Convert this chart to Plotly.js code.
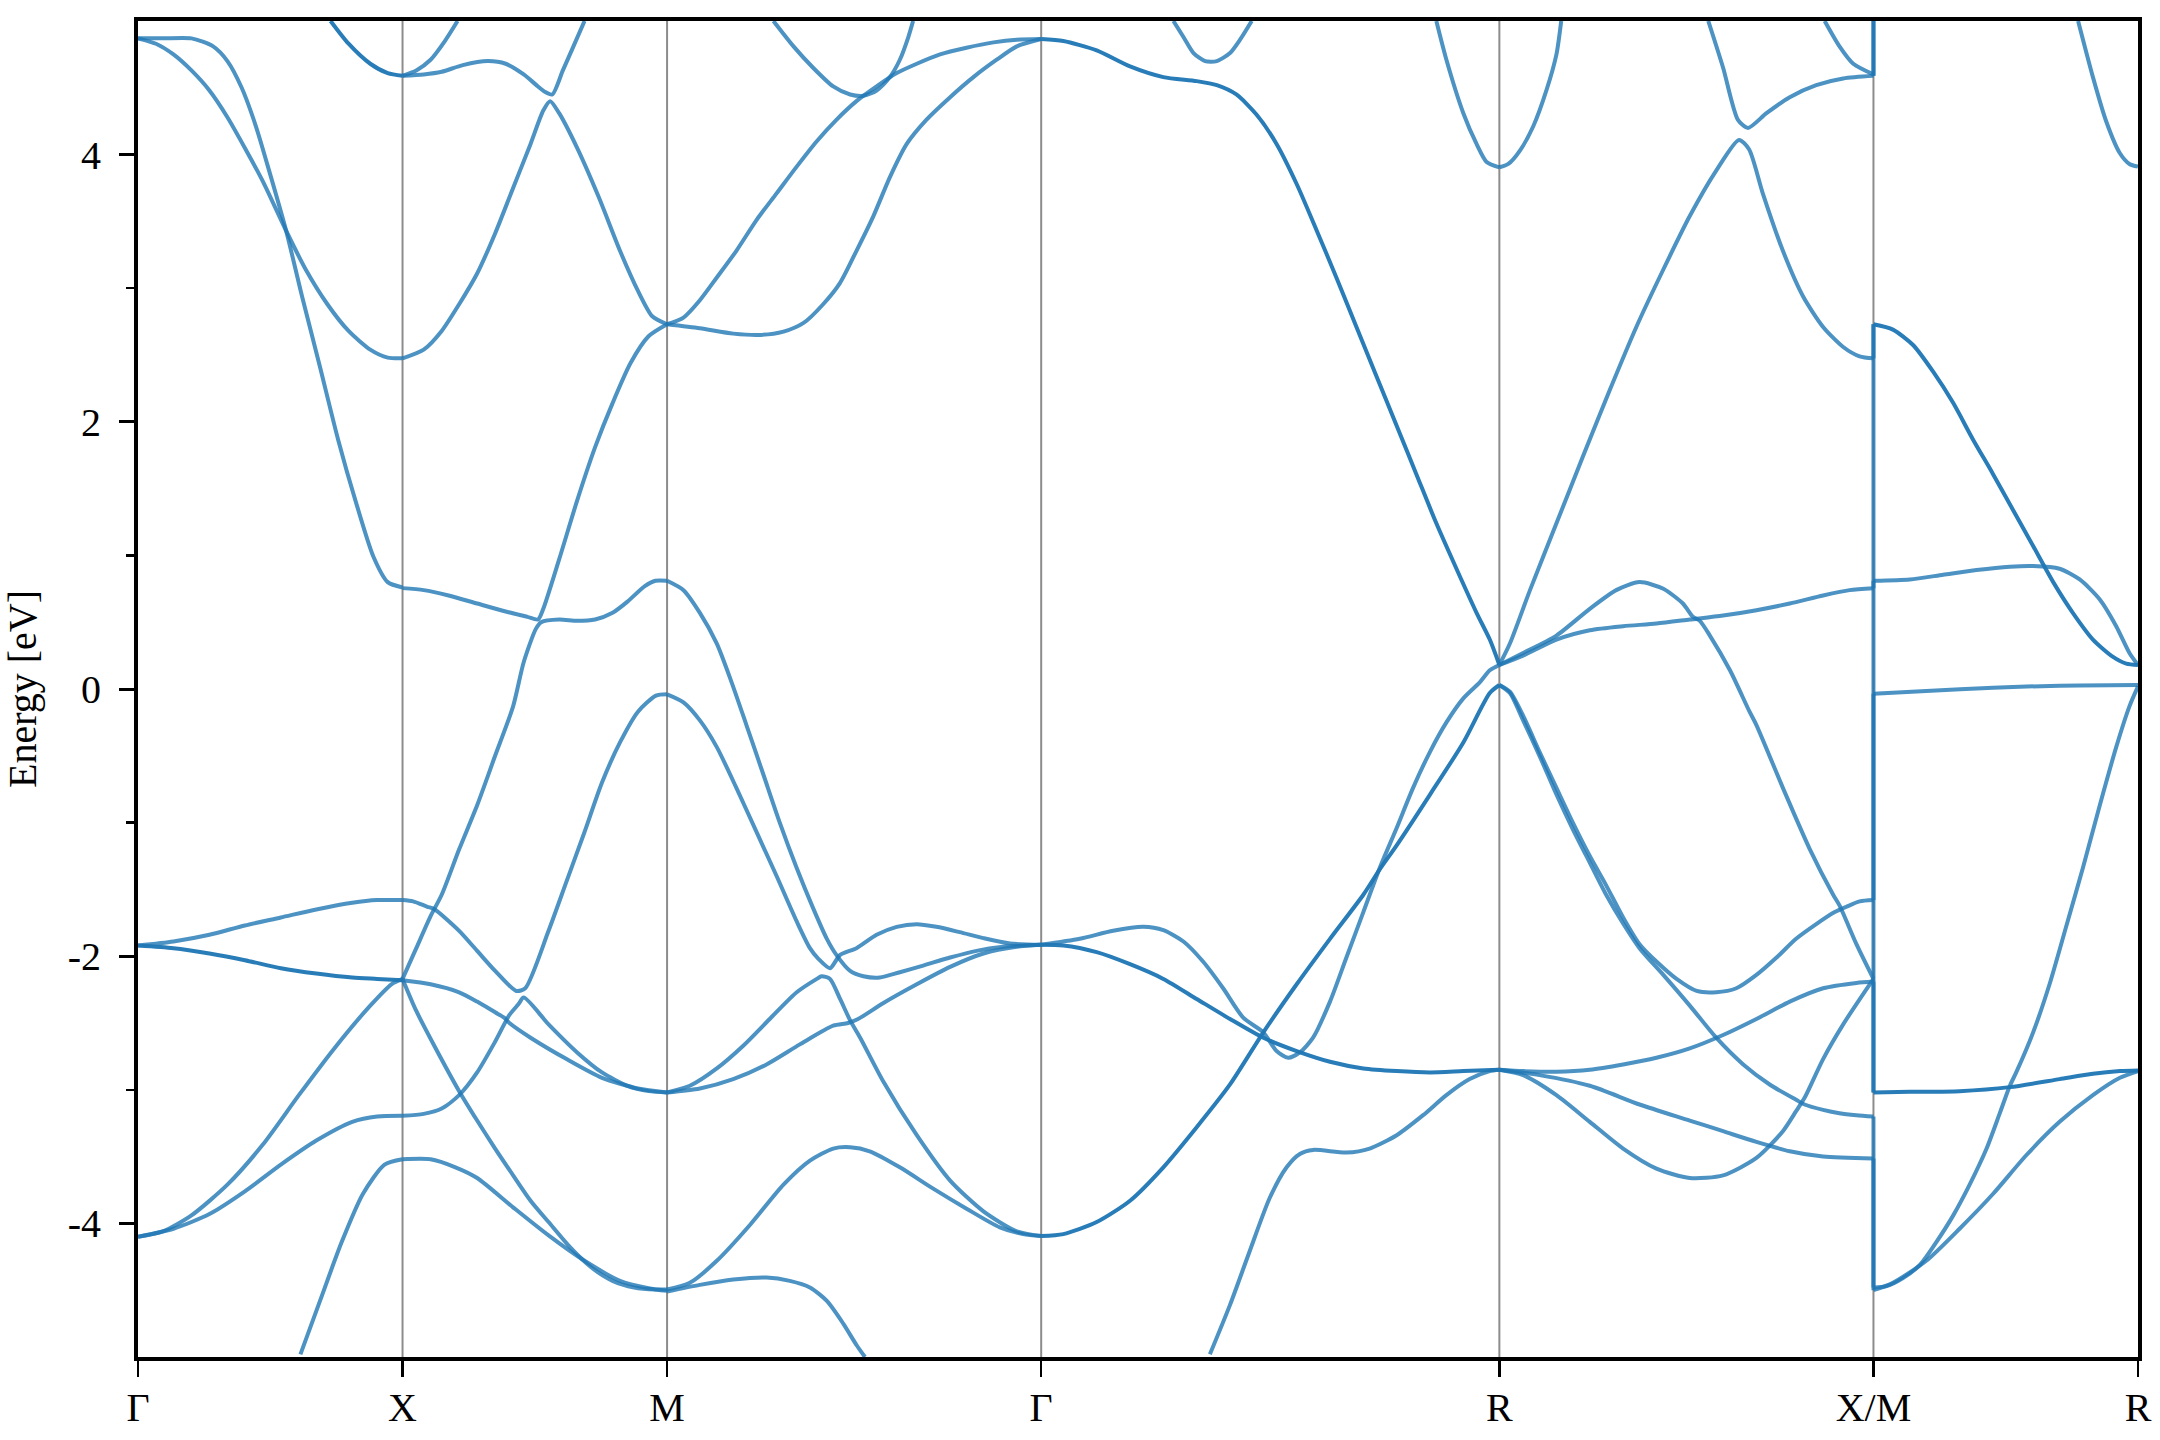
<!DOCTYPE html>
<html><head><meta charset="utf-8">
<script src="https://cdn.plot.ly/plotly-3.0.1.min.js"></script>
<style>html,body{margin:0;padding:0;background:#fff}</style>
</head><body>
<div id="chart" style="width:2160px;height:1440px"></div>
<script>
// high-symmetry path
const kNodes  = [0, 0.5, 1.0, 1.7071, 2.5731, 3.2802, 3.7802];
const kLabels = ['Γ', 'X', 'M', 'Γ', 'R', 'X/M', 'R'];
const eTicks  = [-4, -2, 0, 2, 4];
const eTickText = ['-4', '-2', '0', '2', '4'];
const eMinor  = [-3, -1, 1, 3];

// ---- Γ - X ----
const gx1_k = [0, 0.047, 0.101, 0.142, 0.169, 0.196, 0.223, 0.25, 0.28, 0.31, 0.344, 0.378, 0.411, 0.445, 0.472, 0.5];
const gx1_E = [4.87, 4.87, 4.87, 4.81, 4.70, 4.50, 4.21, 3.85, 3.43, 2.94, 2.41, 1.87, 1.41, 0.99, 0.80, 0.76];
const gx2_k = [0, 0.034, 0.067, 0.101, 0.135, 0.169, 0.202, 0.236, 0.28, 0.317, 0.358, 0.398, 0.439, 0.472, 0.5];
const gx2_E = [4.87, 4.83, 4.75, 4.63, 4.48, 4.28, 4.05, 3.80, 3.43, 3.14, 2.88, 2.68, 2.54, 2.48, 2.475];
const gx3_k = [0.364, 0.398, 0.439, 0.472, 0.5];
const gx3_E = [5.0, 4.83, 4.68, 4.61, 4.59];
const gx4_k = [0, 0.067, 0.135, 0.202, 0.27, 0.337, 0.405, 0.452, 0.5];
const gx4_E = [-1.92, -1.89, -1.84, -1.77, -1.71, -1.65, -1.60, -1.58, -1.58];
const gx5_k = [0, 0.067, 0.135, 0.202, 0.27, 0.337, 0.405, 0.452, 0.5];
const gx5_E = [-1.92, -1.94, -1.98, -2.03, -2.09, -2.13, -2.16, -2.17, -2.18];
const gx6_k = [0, 0.047, 0.101, 0.169, 0.236, 0.304, 0.371, 0.439, 0.479, 0.5];
const gx6_E = [-4.10, -4.06, -3.94, -3.71, -3.41, -3.04, -2.69, -2.37, -2.21, -2.17];
const gx7_k = [0, 0.067, 0.135, 0.202, 0.27, 0.337, 0.405, 0.452, 0.5];
const gx7_E = [-4.10, -4.04, -3.93, -3.76, -3.56, -3.38, -3.24, -3.20, -3.195];
const gx8_k = [0.307, 0.344, 0.385, 0.425, 0.466, 0.5];
const gx8_E = [-4.98, -4.58, -4.14, -3.78, -3.56, -3.52];

// ---- X - M ----
const xm1_k = [0.5, 0.526, 0.553, 0.58, 0.604];
const xm1_E = [4.59, 4.63, 4.71, 4.85, 5.0];
const xm2_k = [0.5, 0.54, 0.574, 0.614, 0.661, 0.695, 0.729, 0.756, 0.769, 0.783, 0.803, 0.823, 0.844];
const xm2_E = [4.59, 4.60, 4.62, 4.67, 4.70, 4.68, 4.60, 4.51, 4.47, 4.45, 4.63, 4.81, 5.0];
const xm3_k = [0.5, 0.54, 0.574, 0.607, 0.641, 0.675, 0.709, 0.742, 0.766, 0.779, 0.796, 0.83, 0.871, 0.911, 0.945, 0.972, 1.0];
const xm3_E = [2.475, 2.54, 2.68, 2.88, 3.11, 3.41, 3.75, 4.08, 4.33, 4.40, 4.31, 4.05, 3.68, 3.28, 2.98, 2.79, 2.73];
const xm4_k = [0.5, 0.54, 0.587, 0.641, 0.695, 0.736, 0.756, 0.766, 0.796, 0.83, 0.864, 0.897, 0.931, 0.965, 1.0];
const xm4_E = [0.755, 0.74, 0.70, 0.64, 0.58, 0.54, 0.52, 0.60, 0.97, 1.41, 1.81, 2.14, 2.44, 2.64, 2.73];
const xm5_k = [0.5, 0.526, 0.553, 0.574, 0.607, 0.641, 0.675, 0.709, 0.729, 0.752, 0.762, 0.796, 0.83, 0.864, 0.897, 0.924, 0.958, 0.978, 1.0];
const xm5_E = [-2.17, -1.94, -1.70, -1.54, -1.20, -0.87, -0.50, -0.13, 0.20, 0.45, 0.50, 0.52, 0.51, 0.52, 0.57, 0.65, 0.77, 0.81, 0.81];
const xm6_k = [0.5, 0.52, 0.547, 0.559, 0.607, 0.641, 0.675, 0.715, 0.732, 0.776, 0.81, 0.844, 0.877, 0.911, 0.945, 0.979, 1.0];
const xm6_E = [-1.58, -1.59, -1.63, -1.645, -1.81, -1.96, -2.11, -2.26, -2.24, -1.81, -1.44, -1.07, -0.70, -0.40, -0.17, -0.05, -0.04];
const xm7_k = [0.5, 0.54, 0.574, 0.607, 0.641, 0.675, 0.702, 0.719, 0.729, 0.776, 0.83, 0.877, 0.925, 0.965, 1.0];
const xm7_E = [-3.195, -3.18, -3.14, -3.04, -2.87, -2.64, -2.44, -2.36, -2.31, -2.51, -2.72, -2.87, -2.97, -3.01, -3.02];
const xm8_k = [0.5, 0.553, 0.607, 0.641, 0.675, 0.692, 0.702, 0.742, 0.81, 0.877, 0.945, 1.0];
const xm8_E = [-2.18, -2.21, -2.27, -2.34, -2.42, -2.46, -2.50, -2.61, -2.77, -2.91, -2.99, -3.02];
const xm9_k = [0.5, 0.526, 0.56, 0.607, 0.641, 0.675, 0.709, 0.742, 0.776, 0.817, 0.857, 0.897, 0.938, 0.979, 1.0];
const xm9_E = [-2.17, -2.41, -2.67, -3.01, -3.23, -3.44, -3.64, -3.83, -3.99, -4.18, -4.33, -4.43, -4.48, -4.495, -4.495];
const xm10_k = [0.5, 0.553, 0.6, 0.641, 0.709, 0.776, 0.844, 0.911, 0.965, 1.0];
const xm10_E = [-3.52, -3.52, -3.58, -3.66, -3.88, -4.09, -4.28, -4.43, -4.485, -4.505];

// ---- M - Γ ----
const mg1_k = [1.0, 1.031, 1.062, 1.094, 1.131, 1.169, 1.207, 1.245, 1.283, 1.32, 1.358, 1.396, 1.434, 1.472, 1.516, 1.566, 1.617, 1.661, 1.7071];
const mg1_E = [2.73, 2.78, 2.91, 3.08, 3.28, 3.51, 3.71, 3.91, 4.10, 4.26, 4.40, 4.51, 4.61, 4.68, 4.75, 4.80, 4.84, 4.86, 4.865];
const mg2_k = [1.0, 1.062, 1.125, 1.176, 1.22, 1.258, 1.295, 1.327, 1.358, 1.39, 1.421, 1.453, 1.49, 1.535, 1.579, 1.623, 1.661, 1.7071];
const mg2_E = [2.73, 2.70, 2.66, 2.65, 2.675, 2.74, 2.88, 3.04, 3.28, 3.54, 3.83, 4.08, 4.26, 4.43, 4.58, 4.71, 4.81, 4.865];
const mg3_k = [1.201, 1.239, 1.276, 1.314, 1.346, 1.371, 1.396, 1.421, 1.44, 1.456, 1.465];
const mg3_E = [5.0, 4.81, 4.65, 4.51, 4.45, 4.44, 4.48, 4.58, 4.71, 4.88, 5.0];
const mg4_k = [1.0, 1.031, 1.062, 1.094, 1.122, 1.15, 1.182, 1.213, 1.245, 1.276, 1.302, 1.32, 1.346, 1.371, 1.402, 1.44, 1.484, 1.535, 1.585, 1.635, 1.673, 1.7071];
const mg4_E = [0.81, 0.74, 0.57, 0.34, 0.05, -0.27, -0.64, -1.00, -1.34, -1.64, -1.87, -1.99, -2.11, -2.15, -2.16, -2.12, -2.07, -2.01, -1.96, -1.93, -1.92, -1.915];
const mg5_k = [1.0, 1.031, 1.062, 1.094, 1.131, 1.169, 1.207, 1.245, 1.27, 1.286, 1.308, 1.327, 1.358, 1.396, 1.434, 1.472, 1.509, 1.553, 1.598, 1.648, 1.7071];
const mg5_E = [-0.04, -0.10, -0.235, -0.435, -0.74, -1.07, -1.40, -1.74, -1.94, -2.02, -2.09, -1.99, -1.94, -1.84, -1.78, -1.76, -1.78, -1.82, -1.865, -1.905, -1.915];
const mg6_k = [1.0, 1.043, 1.094, 1.144, 1.194, 1.245, 1.283, 1.292, 1.308, 1.327, 1.346, 1.365, 1.409, 1.472, 1.535, 1.598, 1.661, 1.7071];
const mg6_E = [-3.02, -2.97, -2.84, -2.67, -2.47, -2.27, -2.17, -2.15, -2.17, -2.32, -2.48, -2.61, -2.94, -3.34, -3.68, -3.91, -4.06, -4.095];
const mg7_k = [1.0, 1.062, 1.125, 1.188, 1.251, 1.314, 1.342, 1.361, 1.409, 1.472, 1.535, 1.598, 1.661, 1.7071];
const mg7_E = [-3.02, -2.99, -2.92, -2.81, -2.66, -2.52, -2.50, -2.47, -2.35, -2.21, -2.08, -1.98, -1.93, -1.915];
const mg8_k = [1.0, 1.043, 1.094, 1.157, 1.22, 1.27, 1.314, 1.346, 1.383, 1.44, 1.503, 1.566, 1.629, 1.673, 1.7071];
const mg8_E = [-4.495, -4.445, -4.28, -4.01, -3.71, -3.53, -3.44, -3.43, -3.46, -3.58, -3.74, -3.89, -4.03, -4.08, -4.095];
const mg9_k = [1.0, 1.062, 1.125, 1.188, 1.232, 1.27, 1.302, 1.333, 1.358, 1.374];
const mg9_E = [-4.51, -4.46, -4.42, -4.405, -4.43, -4.48, -4.58, -4.75, -4.91, -5.0];

// ---- Γ - R ----
const gr1_k = [1.7071, 1.749, 1.812, 1.875, 1.938, 2.001, 2.039, 2.076, 2.114, 2.152, 2.19, 2.227, 2.265, 2.303, 2.341, 2.379, 2.416, 2.454, 2.492, 2.53, 2.555, 2.5731];
const gr1_E = [4.865, 4.85, 4.78, 4.66, 4.58, 4.55, 4.52, 4.45, 4.30, 4.08, 3.78, 3.44, 3.08, 2.71, 2.34, 1.97, 1.61, 1.24, 0.90, 0.57, 0.37, 0.18];
const gr2_k = [1.957, 1.976, 1.995, 2.017, 2.039, 2.064, 2.083, 2.105];
const gr2_E = [5.0, 4.88, 4.76, 4.70, 4.70, 4.76, 4.86, 5.0];
const gr3_k = [2.454, 2.473, 2.505, 2.53, 2.549, 2.5731];
const gr3_E = [5.0, 4.71, 4.31, 4.08, 3.945, 3.905];
const gr4_k = [1.7071, 1.749, 1.812, 1.875, 1.938, 2.001, 2.064, 2.127, 2.19, 2.253, 2.316, 2.379, 2.442, 2.505, 2.5731];
const gr4_E = [-1.915, -1.92, -1.97, -2.06, -2.17, -2.32, -2.47, -2.61, -2.71, -2.79, -2.84, -2.86, -2.87, -2.86, -2.85];
const gr5_k = [1.7071, 1.78, 1.843, 1.9, 1.938, 1.976, 2.013, 2.051, 2.089, 2.127, 2.152, 2.174, 2.196, 2.221, 2.253, 2.284, 2.316, 2.347, 2.379, 2.41, 2.442, 2.473, 2.505, 2.536, 2.555, 2.5731];
const gr5_E = [-1.915, -1.87, -1.81, -1.78, -1.805, -1.89, -2.04, -2.24, -2.46, -2.57, -2.71, -2.76, -2.72, -2.61, -2.34, -2.01, -1.67, -1.34, -1.04, -0.74, -0.47, -0.25, -0.07, 0.05, 0.14, 0.18];
const gr6_k = [1.7071, 1.749, 1.812, 1.875, 1.938, 2.001, 2.064, 2.127, 2.19, 2.253, 2.316, 2.347, 2.379, 2.442, 2.505, 2.555, 2.5731];
const gr6_E = [-4.095, -4.08, -3.99, -3.83, -3.58, -3.28, -2.96, -2.57, -2.21, -1.87, -1.54, -1.35, -1.17, -0.79, -0.40, -0.03, 0.03];
const gr7_k = [2.026, 2.064, 2.101, 2.139, 2.171, 2.196, 2.221, 2.284, 2.328, 2.379, 2.429, 2.473, 2.517, 2.555, 2.5731];
const gr7_E = [-4.98, -4.61, -4.21, -3.81, -3.58, -3.48, -3.45, -3.47, -3.44, -3.34, -3.19, -3.04, -2.92, -2.86, -2.85];

// ---- R - X ----
const rx1_k = [2.5731, 2.59, 2.612, 2.637, 2.662, 2.681, 2.69];
const rx1_E = [3.905, 3.93, 4.03, 4.21, 4.48, 4.75, 5.0];
const rx2_k = [2.968, 2.996, 3.024, 3.043, 3.078, 3.122, 3.172, 3.223, 3.2802];
const rx2_E = [5.0, 4.65, 4.26, 4.20, 4.31, 4.43, 4.52, 4.57, 4.59];
const rx3_k = [3.188, 3.216, 3.242, 3.2802];
const rx3_E = [5.0, 4.81, 4.68, 4.60];
const rx4_k = [2.5731, 2.593, 2.631, 2.681, 2.731, 2.782, 2.832, 2.883, 2.933, 2.983, 3.026, 3.045, 3.071, 3.109, 3.147, 3.185, 3.223, 3.254, 3.2802];
const rx4_E = [0.18, 0.34, 0.74, 1.24, 1.74, 2.24, 2.71, 3.14, 3.54, 3.88, 4.11, 4.04, 3.71, 3.28, 2.94, 2.71, 2.56, 2.49, 2.475];
const rx5_k = [2.5731, 2.618, 2.681, 2.744, 2.794, 2.838, 2.883, 2.92, 2.939, 2.952, 2.971, 3.009, 3.046, 3.059, 3.109, 3.16, 3.204, 3.216, 3.248, 3.2802];
const rx5_E = [0.18, 0.27, 0.40, 0.60, 0.74, 0.80, 0.75, 0.64, 0.54, 0.51, 0.40, 0.14, -0.17, -0.27, -0.74, -1.20, -1.54, -1.62, -1.91, -2.17];
const rx6_k = [2.5731, 2.618, 2.681, 2.744, 2.807, 2.87, 2.933, 2.996, 3.059, 3.122, 3.185, 3.235, 3.2802];
const rx6_E = [0.18, 0.25, 0.37, 0.44, 0.47, 0.49, 0.52, 0.55, 0.59, 0.64, 0.70, 0.74, 0.755];
const rx7_k = [2.5731, 2.593, 2.618, 2.649, 2.681, 2.712, 2.744, 2.775, 2.807, 2.838, 2.87, 2.908, 2.946, 2.983, 3.021, 3.059, 3.097, 3.134, 3.172, 3.207, 3.229, 3.254, 3.2802];
const rx7_E = [0.03, -0.02, -0.20, -0.47, -0.74, -1.00, -1.25, -1.47, -1.71, -1.91, -2.04, -2.17, -2.26, -2.27, -2.24, -2.14, -2.01, -1.87, -1.76, -1.67, -1.63, -1.59, -1.58];
const rx8_k = [2.5731, 2.593, 2.618, 2.649, 2.681, 2.712, 2.744, 2.775, 2.807, 2.838, 2.883, 2.933, 2.983, 3.034, 3.084, 3.134, 3.15, 3.185, 3.216, 3.248, 3.2802];
const rx8_E = [0.03, -0.03, -0.235, -0.50, -0.79, -1.05, -1.30, -1.54, -1.755, -1.94, -2.14, -2.37, -2.61, -2.81, -2.96, -3.075, -3.11, -3.15, -3.175, -3.19, -3.20];
const rx9_k = [2.5731, 2.618, 2.681, 2.744, 2.807, 2.87, 2.933, 2.996, 3.059, 3.109, 3.134, 3.15, 3.185, 3.223, 3.2802];
const rx9_E = [-2.85, -2.89, -3.04, -3.24, -3.44, -3.59, -3.66, -3.64, -3.51, -3.31, -3.16, -3.06, -2.77, -2.51, -2.17];
const rx10_k = [2.5731, 2.649, 2.744, 2.838, 2.933, 2.996, 3.059, 3.122, 3.185, 3.2802];
const rx10_E = [-2.85, -2.89, -2.97, -3.11, -3.23, -3.31, -3.39, -3.46, -3.50, -3.515];
const rx11_k = [2.5731, 2.618, 2.681, 2.744, 2.807, 2.87, 2.933, 2.996, 3.059, 3.122, 3.185, 3.248, 3.2802];
const rx11_E = [-2.85, -2.86, -2.865, -2.85, -2.81, -2.76, -2.69, -2.59, -2.47, -2.34, -2.24, -2.20, -2.19];

// ---- M - R ----
const mr1_k = [3.2802, 3.317, 3.355, 3.393, 3.431, 3.468, 3.506, 3.544, 3.582, 3.62, 3.657, 3.695, 3.733, 3.758, 3.7802];
const mr1_E = [2.73, 2.69, 2.575, 2.375, 2.14, 1.87, 1.61, 1.34, 1.07, 0.80, 0.57, 0.37, 0.24, 0.19, 0.18];
const mr2_k = [3.2802, 3.349, 3.412, 3.475, 3.538, 3.582, 3.632, 3.67, 3.708, 3.739, 3.764, 3.7802];
const mr2_E = [0.81, 0.82, 0.855, 0.89, 0.915, 0.92, 0.90, 0.82, 0.67, 0.47, 0.27, 0.18];
const mr3_k = [3.667, 3.695, 3.72, 3.746, 3.764, 3.7802];
const mr3_E = [5.0, 4.58, 4.25, 4.01, 3.93, 3.91];
const mr4_k = [3.2802, 3.38, 3.506, 3.632, 3.7802];
const mr4_E = [-0.035, -0.015, 0.01, 0.025, 0.03];
const mr5_k = [3.2802, 3.305, 3.336, 3.368, 3.399, 3.431, 3.462, 3.494, 3.519, 3.538, 3.55, 3.582, 3.613, 3.645, 3.676, 3.708, 3.739, 3.764, 3.7802];
const mr5_E = [-4.48, -4.47, -4.41, -4.31, -4.14, -3.94, -3.71, -3.44, -3.175, -2.97, -2.87, -2.57, -2.21, -1.77, -1.34, -0.87, -0.435, -0.13, 0.02];
const mr6_k = [3.2802, 3.349, 3.443, 3.538, 3.632, 3.695, 3.746, 3.7802];
const mr6_E = [-3.02, -3.015, -3.01, -2.98, -2.92, -2.88, -2.86, -2.855];
const mr7_k = [3.2802, 3.317, 3.38, 3.443, 3.506, 3.569, 3.632, 3.695, 3.746, 3.7802];
const mr7_E = [-4.5, -4.445, -4.28, -4.04, -3.78, -3.49, -3.24, -3.04, -2.91, -2.86];

// band continuity across the X|M discontinuity: energy at X -> energy at M
const jumpAtX = [-3.515, -3.20, -2.19, -2.17, -2.17, -1.58, 0.755, 2.475, 4.59, 4.59];
const jumpAtM = [-4.48, -4.50, -3.02, -3.02, -0.035, 0.81, 2.73, 2.73, 5.0, 5.0];

// [k, E, degeneracy]  (2 = two bands lying on top of each other)
const curveList = [
  [gx1_k, gx1_E, 1], [gx2_k, gx2_E, 1], [gx3_k, gx3_E, 2], [gx4_k, gx4_E, 1], [gx5_k, gx5_E, 2],
  [gx6_k, gx6_E, 1], [gx7_k, gx7_E, 1], [gx8_k, gx8_E, 1],
  [xm1_k, xm1_E, 1], [xm2_k, xm2_E, 1], [xm3_k, xm3_E, 1], [xm4_k, xm4_E, 1], [xm5_k, xm5_E, 1],
  [xm6_k, xm6_E, 1], [xm7_k, xm7_E, 1], [xm8_k, xm8_E, 1], [xm9_k, xm9_E, 1], [xm10_k, xm10_E, 1],
  [mg1_k, mg1_E, 1], [mg2_k, mg2_E, 1], [mg3_k, mg3_E, 1], [mg4_k, mg4_E, 1], [mg5_k, mg5_E, 1],
  [mg6_k, mg6_E, 1], [mg7_k, mg7_E, 1], [mg8_k, mg8_E, 1], [mg9_k, mg9_E, 1],
  [gr1_k, gr1_E, 2], [gr2_k, gr2_E, 1], [gr3_k, gr3_E, 1], [gr4_k, gr4_E, 2], [gr5_k, gr5_E, 1],
  [gr6_k, gr6_E, 2], [gr7_k, gr7_E, 1],
  [rx1_k, rx1_E, 1], [rx2_k, rx2_E, 1], [rx3_k, rx3_E, 1], [rx4_k, rx4_E, 1], [rx5_k, rx5_E, 1],
  [rx6_k, rx6_E, 1], [rx7_k, rx7_E, 1], [rx8_k, rx8_E, 1], [rx9_k, rx9_E, 1], [rx10_k, rx10_E, 1],
  [rx11_k, rx11_E, 1],
  [mr1_k, mr1_E, 2], [mr2_k, mr2_E, 1], [mr3_k, mr3_E, 1], [mr4_k, mr4_E, 1], [mr5_k, mr5_E, 1],
  [mr6_k, mr6_E, 2], [mr7_k, mr7_E, 1]
];

const ALPHA = 0.8;
function bandColor(deg) {
  const a = 1 - Math.pow(1 - ALPHA, deg);
  return 'rgba(31,119,180,' + a.toFixed(3) + ')';
}
const LW = 4;

const traces = curveList.map(c => ({
  type: 'scatter', mode: 'lines', x: c[0], y: c[1],
  line: { color: bandColor(c[2]), width: LW, shape: 'spline', smoothing: 0.7 },
  hoverinfo: 'skip', showlegend: false
}));

// vertical joins at X|M
const kXM = kNodes[5];
jumpAtX.forEach((e, i) => {
  traces.push({
    type: 'scatter', mode: 'lines', x: [kXM, kXM], y: [e, jumpAtM[i]],
    line: { color: bandColor(1), width: LW }, hoverinfo: 'skip', showlegend: false
  });
});

const FONT = '"Liberation Serif", "Times New Roman", Times, serif';

const shapes = kNodes.slice(1, -1).map(k => ({
  type: 'line', xref: 'x', yref: 'paper', x0: k, x1: k, y0: 0, y1: 1,
  line: { color: 'rgba(0,0,0,0.45)', width: 2 }, layer: 'below'
}));

const layout = {
  width: 2160, height: 1440,
  margin: { l: 138, r: 22, t: 21, b: 83 },
  paper_bgcolor: '#ffffff', plot_bgcolor: '#ffffff',
  font: { family: FONT, size: 40, color: '#000' },
  showlegend: false,
  xaxis: {
    range: [kNodes[0], kNodes[kNodes.length - 1]],
    tickmode: 'array', tickvals: kNodes, ticktext: kLabels,
    ticks: 'outside', ticklen: 16, tickwidth: 2.5, tickcolor: '#000',
    ticklabelstandoff: -4,
    showline: true, linecolor: '#000', linewidth: 4, mirror: true,
    showgrid: false, zeroline: false,
    tickfont: { family: FONT, size: 40, color: '#000' }
  },
  yaxis: {
    range: [-5, 5],
    tickmode: 'array', tickvals: eTicks, ticktext: eTickText,
    ticks: 'outside', ticklen: 15, tickwidth: 3, tickcolor: '#000',
    ticklabelstandoff: 10,
    minor: { tickmode: 'array', tickvals: eMinor, ticks: 'outside', ticklen: 8, tickwidth: 2.5, tickcolor: '#000', showgrid: false },
    showline: true, linecolor: '#000', linewidth: 4, mirror: true,
    showgrid: false, zeroline: false,
    tickfont: { family: FONT, size: 40, color: '#000' },
    title: { text: 'Energy [eV]', font: { family: FONT, size: 40, color: '#000' }, standoff: 24 }
  },
  shapes: shapes
};

Plotly.newPlot('chart', traces, layout, { displayModeBar: false, staticPlot: true });
</script>
</body></html>
